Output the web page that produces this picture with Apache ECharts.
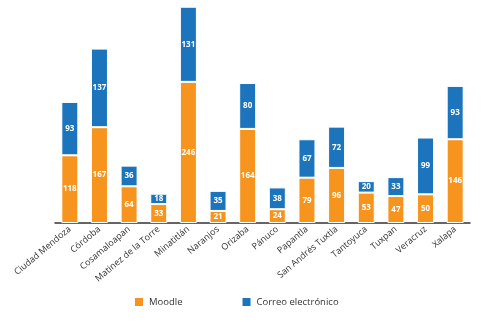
<!DOCTYPE html>
<html>
<head>
<meta charset="utf-8">
<script src="https://cdn.jsdelivr.net/npm/echarts@6/dist/echarts.min.js"></script>
<style>
html,body{margin:0;padding:0;background:#fff;}
#chart{width:485px;height:324px;}
</style>
</head>
<body>
<div id="chart"></div>
<script>
// categorías
var ciudades = ['Ciudad Mendoza', 'Córdoba', 'Cosamaloapan', 'Matinez de la Torre', 'Minatitlán', 'Naranjos', 'Orizaba',
	'Pánuco', 'Papantla', 'San Andrés Tuxtla', 'Tantoyuca', 'Tuxpan', 'Veracruz', 'Xalapa'];
// series
var moodle = [118, 167, 64, 33, 246, 21, 164, 24, 79, 96, 53, 47, 50, 146];
var correo = [93, 137, 36, 18, 131, 35, 80, 38, 67, 72, 20, 33, 99, 93];

var fuente = 'Open Sans';
var myChart = echarts.init(document.getElementById('chart'));

function serie(nombre, datos, color) {
	return {
		name: nombre,
		type: 'bar',
		stack: 'total',
		barWidth: 17,
		data: datos,
		itemStyle: {
			color: color,
			borderColor: '#ffffff',
			borderWidth: 1
		},
		label: {
			show: true,
			position: 'inside',
			color: '#ffffff',
			fontFamily: fuente,
			fontSize: 8,
			fontWeight: 'bold'
		}
	};
}

var option = {
	animation: false,
	grid: {
		left: 55,
		right: 15,
		top: 5,
		bottom: 101
	},
	legend: {
		left: 133,
		top: 296,
		padding: 0,
		itemWidth: 10,
		itemHeight: 10,
		itemGap: 58,
		icon: 'rect',
		textStyle: {
			fontFamily: fuente,
			fontSize: 9.5,
			color: '#333'
		},
		data: ['Moodle', 'Correo electrónico']
	},
	xAxis: {
		type: 'category',
		data: ciudades,
		axisLine: { lineStyle: { color: '#333', width: 1.5 } },
		axisTick: { show: false },
		axisLabel: {
			interval: 0,
			rotate: 40,
			margin: 5,
			color: '#333',
			fontFamily: fuente,
			fontSize: 9
		}
	},
	yAxis: {
		type: 'value',
		min: 0,
		max: 380,
		show: false,
		splitLine: { show: false }
	},
	series: [
		serie('Moodle', moodle, '#F7941D'),
		serie('Correo electrónico', correo, '#1C75BC')
	]
};

myChart.setOption(option);
</script>
</body>
</html>
